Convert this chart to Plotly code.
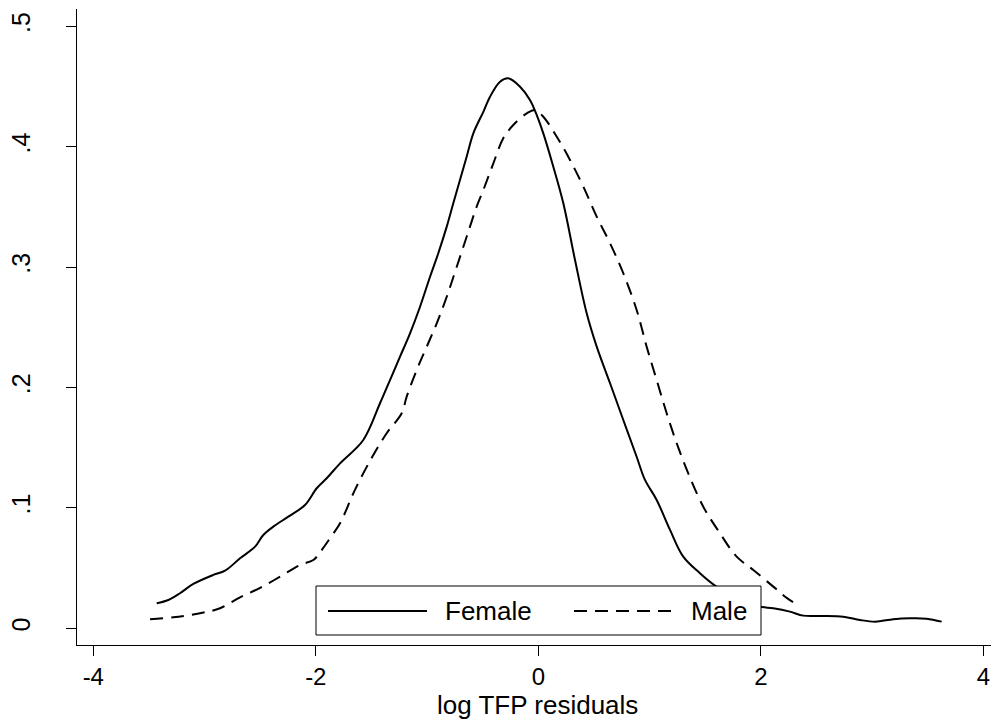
import plotly.graph_objects as go

# ---- data ----
female_x = [-3.430, -3.326, -3.221, -3.101, -2.921, -2.816, -2.681, -2.546, -2.472, -2.382,
            -2.247, -2.097, -1.992, -1.902, -1.782, -1.573, -1.423, -1.333, -1.243, -1.153,
            -1.063, -0.973, -0.899, -0.823, -0.764, -0.644, -0.584, -0.494, -0.434, -0.344,
            -0.270, -0.164, -0.075, -0.014, 0.045, 0.135, 0.225, 0.330, 0.435, 0.525,
            0.645, 0.764, 0.884, 0.959, 1.064, 1.184, 1.303, 1.453, 1.588, 1.723,
            1.858, 1.993, 2.112, 2.262, 2.382, 2.532, 2.742, 2.891, 3.028, 3.191,
            3.341, 3.491, 3.626]
female_y = [0.0208, 0.0235, 0.0291, 0.0368, 0.0443, 0.0478, 0.0581, 0.0678, 0.0775, 0.0844,
            0.0927, 0.1024, 0.1163, 0.1246, 0.1370, 0.1564, 0.1869, 0.2062, 0.2256, 0.2450,
            0.2671, 0.2920, 0.3115, 0.3336, 0.3530, 0.3917, 0.4111, 0.4290, 0.4415, 0.4540,
            0.4568, 0.4498, 0.4388, 0.4263, 0.4111, 0.3834, 0.3530, 0.3059, 0.2616, 0.2339,
            0.2035, 0.1730, 0.1425, 0.1232, 0.1066, 0.0817, 0.0595, 0.0457, 0.0354, 0.0277,
            0.0218, 0.0179, 0.0166, 0.0138, 0.0105, 0.0102, 0.0096, 0.0069, 0.0055, 0.0075,
            0.0083, 0.0080, 0.0055]

male_x = [-3.490, -3.281, -3.041, -2.861, -2.681, -2.501, -2.321, -2.142, -2.022, -1.947,
          -1.872, -1.782, -1.648, -1.495, -1.363, -1.228, -1.183, -1.093, -1.003, -0.913,
          -0.823, -0.733, -0.644, -0.554, -0.494, -0.404, -0.315, -0.225, -0.104, -0.030,
          0.045, 0.166, 0.285, 0.405, 0.525, 0.645, 0.764, 0.884, 0.974, 1.064,
          1.154, 1.244, 1.348, 1.483, 1.633, 1.783, 1.933, 2.112, 2.233, 2.352]
male_y = [0.0075, 0.0091, 0.0125, 0.0166, 0.0257, 0.0335, 0.0429, 0.0526, 0.0567, 0.0650,
          0.0748, 0.0872, 0.1150, 0.1420, 0.1620, 0.1786, 0.1924, 0.2145, 0.2339, 0.2533,
          0.2754, 0.3003, 0.3252, 0.3502, 0.3640, 0.3862, 0.4070, 0.4180, 0.4277, 0.4305,
          0.4249, 0.4083, 0.3890, 0.3668, 0.3419, 0.3198, 0.2949, 0.2644, 0.2339, 0.2062,
          0.1786, 0.1537, 0.1287, 0.1010, 0.0789, 0.0595, 0.0484, 0.0346, 0.0252, 0.0185]

x_ticks = [-4, -2, 0, 2, 4]
x_tick_labels = ["-4", "-2", "0", "2", "4"]
y_ticks = [0, 0.1, 0.2, 0.3, 0.4, 0.5]
y_tick_labels = ["0", ".1", ".2", ".3", ".4", ".5"]
series_names = ["Female", "Male"]
x_title = "log TFP residuals"

# ---- layout geometry (pixels) ----
W, H = 991, 720
L, R, T, B = 77, 0, 9, 75
PW, PH = W - L - R, H - T - B
FONT = "Liberation Sans, Arial, Helvetica, sans-serif"
DASH = "13px,8px"


def px(xp):
    return (xp - L) / PW


def py(yp):
    return (H - B - yp) / PH


fig = go.Figure()
fig.add_trace(go.Scatter(x=female_x, y=female_y, mode="lines", name=series_names[0],
                         line=dict(color="black", width=2), line_shape="spline"))
fig.add_trace(go.Scatter(x=male_x, y=male_y, mode="lines", name=series_names[1],
                         line=dict(color="black", width=2, dash=DASH), line_shape="spline"))

# custom legend (Stata-style long line samples)
shapes = [
    dict(type="rect", xref="paper", yref="paper", x0=px(316), x1=px(761), y0=py(635), y1=py(586),
         fillcolor="white", line=dict(color="black", width=1), layer="above"),
    dict(type="line", xref="paper", yref="paper", x0=px(328), x1=px(427), y0=py(611), y1=py(611),
         line=dict(color="black", width=2), layer="above"),
    dict(type="line", xref="paper", yref="paper", x0=px(574), x1=px(673), y0=py(611), y1=py(611),
         line=dict(color="black", width=2, dash=DASH), layer="above"),
]
annotations = [
    dict(xref="paper", yref="paper", x=px(443), y=py(611), text=series_names[0], showarrow=False,
         xanchor="left", yanchor="middle", font=dict(size=26, color="black", family=FONT)),
    dict(xref="paper", yref="paper", x=px(689), y=py(611), text=series_names[1], showarrow=False,
         xanchor="left", yanchor="middle", font=dict(size=26, color="black", family=FONT)),
    dict(xref="paper", yref="paper", x=px(537), y=py(705), text=x_title, showarrow=False,
         xanchor="center", yanchor="middle", font=dict(size=26, color="black", family=FONT)),
]

fig.update_layout(
    width=W, height=H,
    margin=dict(l=L, r=R, t=T, b=B, autoexpand=False),
    paper_bgcolor="white", plot_bgcolor="white",
    showlegend=False,
    font=dict(family=FONT, color="black", size=25),
    shapes=shapes, annotations=annotations,
    xaxis=dict(range=[-4.1465, 4.0692], tickvals=x_ticks, ticktext=x_tick_labels,
               ticks="outside", ticklen=10,
               tickcolor="black", tickwidth=1, showline=True, linecolor="black", linewidth=1,
               showgrid=False, zeroline=False, ticklabelstandoff=0, automargin=False,
               tickfont=dict(size=24, color="black")),
    yaxis=dict(range=[-0.0139, 0.5144], tickvals=y_ticks, ticktext=y_tick_labels,
               ticks="outside", ticklen=10, tickcolor="black", tickwidth=1, automargin=False,
               showline=True, linecolor="black", linewidth=1, showgrid=False, zeroline=False,
               tickangle=-90, ticklabelstandoff=26, tickfont=dict(size=25, color="black")),
)

fig.write_html("out.html", config={"displayModeBar": False},
               post_script="document.body.style.margin='0';document.body.style.overflow='hidden';")
